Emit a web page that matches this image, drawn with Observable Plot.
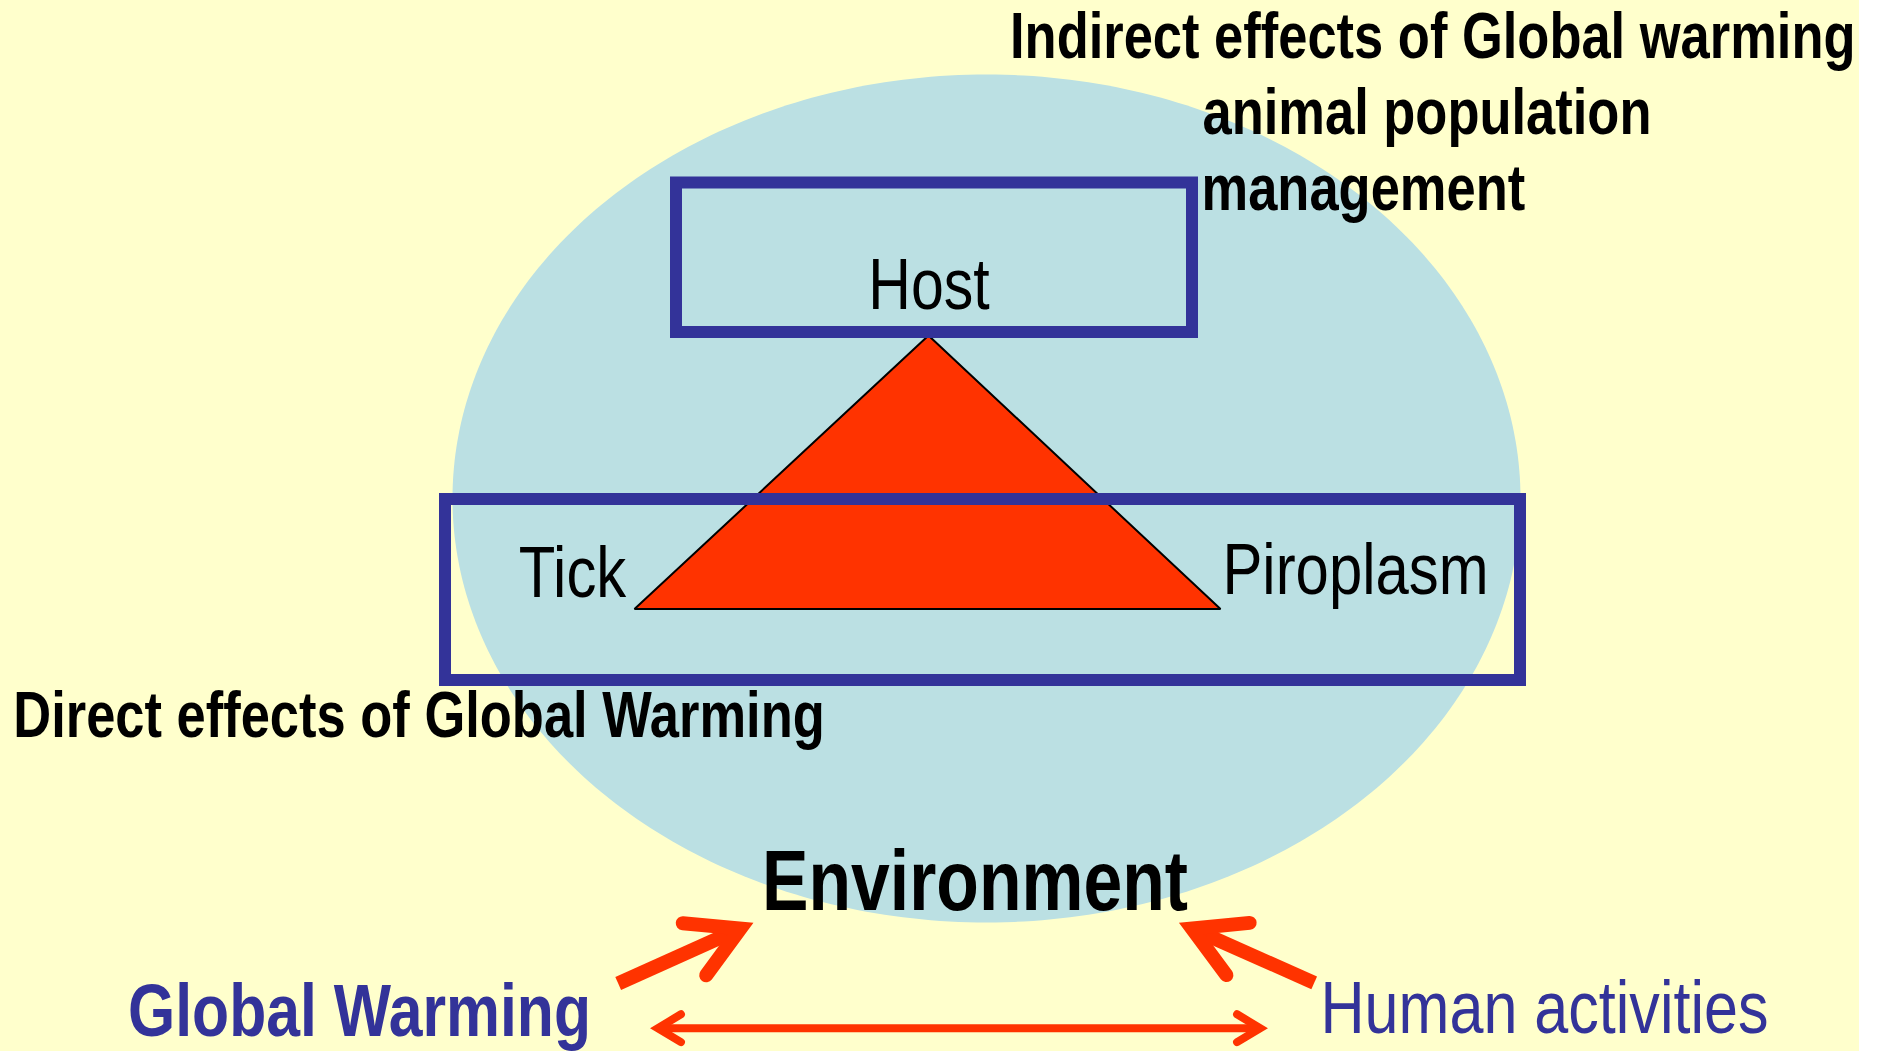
<!DOCTYPE html>
<html>
<head>
<meta charset="utf-8">
<script src="https://cdn.jsdelivr.net/npm/d3@7"></script>
<script src="https://cdn.jsdelivr.net/npm/@observablehq/plot@0.6"></script>
<style>
  html, body { margin: 0; padding: 0; background: #ffffff; }
  #chart { width: 1879px; height: 1051px; }
</style>
</head>
<body>
<div id="chart"></div>
<script>
// ---- diagram layout (page 1879 x 1051, slide 1859 x 1051) ----
const pageSize = [1879, 1051];
const slide = [{x1: 0, x2: 1859, y1: 0, y2: 1051}];

// Environment ellipse: centre and radii
const environment = {cx: 986, cy: 498, rx: 534, ry: 424};

// Epidemiological triangle: Host (apex), Tick (left), Piroplasm (right)
const triangle = [
  {corner: "Host", x: 928, y: 335},
  {corner: "Tick", x: 634, y: 608.6},
  {corner: "Piroplasm", x: 1220, y: 608.6}
];

// Framing boxes (indirect = host box, direct = tick/piroplasm box)
const boxes = [
  {name: "indirect", x1: 676, x2: 1192, y1: 182.5, y2: 332},
  {name: "direct", x1: 445, x2: 1520, y1: 499, y2: 680}
];

// Labels
const labels = [
  {text: "Indirect effects of Global warming", x: 1009.5, y: 57, size: 64, weight: "bold", color: "#000000", anchor: "start"},
  {text: "animal population", x: 1202, y: 133.5, size: 64, weight: "bold", color: "#000000", anchor: "start"},
  {text: "management", x: 1201, y: 209.6, size: 64, weight: "bold", color: "#000000", anchor: "start"},
  {text: "Host", x: 928.5, y: 308.6, size: 72, weight: "normal", color: "#000000", anchor: "middle"},
  {text: "Tick", x: 572, y: 596, size: 73, weight: "normal", color: "#000000", anchor: "middle"},
  {text: "Piroplasm", x: 1355, y: 593, size: 73, weight: "normal", color: "#000000", anchor: "middle"},
  {text: "Direct effects of Global Warming", x: 418.5, y: 736.4, size: 64, weight: "bold", color: "#000000", anchor: "middle"},
  {text: "Environment", x: 974.5, y: 909, size: 85, weight: "bold", color: "#000000", anchor: "middle"},
  {text: "Global Warming", x: 359, y: 1035.5, size: 74, weight: "bold", color: "#333399", anchor: "middle"},
  {text: "Human activities", x: 1544, y: 1032, size: 74.5, weight: "normal", color: "#333399", anchor: "middle"}
];

// Arrows: tail -> head vertex, stroke width, head length, head half-angle (deg), double-headed?
const arrows = [
  {name: "gw-env", x1: 617.7, y1: 983, x2: 740, y2: 928, width: 14, head: 58, angle: 29.5, both: false},
  {name: "ha-env", x1: 1313.7, y1: 982.3, x2: 1191.4, y2: 928, width: 14, head: 58, angle: 29.5, both: false},
  {name: "gw-ha", x1: 657.3, y1: 1027.7, x2: 1259.7, y2: 1027.7, width: 8, head: 27, angle: 31, both: true}
];

// ---- colours / type ----
const colors = {slide: "#FFFFCC", env: "#BBE0E3", frame: "#333399", tri: "#FF3300", arrow: "#FF3300"};
const FONT = "'Liberation Sans Narrow', 'Arial Narrow', 'Liberation Sans', Arial, sans-serif";
const NARROW = 0.82; // Arial Narrow width relative to Arial

// ---- derived geometry ----
const ellipsePts = d3.range(0, 360, 1).map(a => {
  const t = a * Math.PI / 180;
  return {x: environment.cx + environment.rx * Math.cos(t), y: environment.cy + environment.ry * Math.sin(t)};
});

function chevron(name, vx, vy, fromx, fromy, len, halfDeg) {
  const back = Math.atan2(fromy - vy, fromx - vx);
  const h = halfDeg * Math.PI / 180;
  return [
    {id: name, x: vx + len * Math.cos(back + h), y: vy + len * Math.sin(back + h)},
    {id: name, x: vx, y: vy},
    {id: name, x: vx + len * Math.cos(back - h), y: vy + len * Math.sin(back - h)}
  ];
}

const arrowMarks = arrows.flatMap(a => {
  const shaft = [{id: a.name, x: a.x1, y: a.y1}, {id: a.name, x: a.x2, y: a.y2}];
  let heads = chevron(a.name + "-end", a.x2, a.y2, a.x1, a.y1, a.head, a.angle);
  if (a.both) heads = heads.concat(chevron(a.name + "-start", a.x1, a.y1, a.x2, a.y2, a.head, a.angle));
  return [
    Plot.line(shaft, {x: "x", y: "y", z: "id", stroke: colors.arrow, strokeWidth: a.width, strokeLinecap: "butt"}),
    Plot.line(heads, {x: "x", y: "y", z: "id", stroke: colors.arrow, strokeWidth: a.width, strokeLinecap: "round", strokeLinejoin: "miter", strokeMiterlimit: 4})
  ];
});

const textMarks = labels.map(l => Plot.text([l], {
  x: "x", y: "y", text: "text",
  fontSize: l.size, fontWeight: l.weight, fill: l.color,
  textAnchor: l.anchor, lineAnchor: "bottom", fontFamily: FONT
}));

const chart = Plot.plot({
  width: pageSize[0],
  height: pageSize[1],
  margin: 0,
  style: {background: "#ffffff"},
  x: {domain: [0, pageSize[0]], range: [0, pageSize[0]], axis: null},
  y: {domain: [0, pageSize[1]], range: [0, pageSize[1]], axis: null},
  marks: [
    Plot.rect(slide, {x1: "x1", x2: "x2", y1: "y1", y2: "y2", fill: colors.slide}),
    Plot.line(ellipsePts, {x: "x", y: "y", curve: "linear-closed", fill: colors.env, stroke: "none"}),
    Plot.line(triangle, {x: "x", y: "y", curve: "linear-closed", fill: colors.tri, stroke: "#000000", strokeWidth: 2, strokeLinejoin: "miter"}),
    Plot.rect(boxes, {x1: "x1", x2: "x2", y1: "y1", y2: "y2", fill: "none", stroke: colors.frame, strokeWidth: 12}),
    ...textMarks,
    ...arrowMarks
  ]
});
document.getElementById("chart").appendChild(chart);

// Condense the text horizontally to the narrow face of the original
// (no narrow font is installed); the scale is about each label's anchor point.
d3.select(chart).selectAll("text").each(function () {
  const t = this.getAttribute("transform");
  if (t && /translate/.test(t)) {
    this.setAttribute("transform", `${t} scale(${NARROW},1)`);
  } else {
    const x = +(this.getAttribute("x") || 0);
    this.setAttribute("transform", `translate(${x},0) scale(${NARROW},1) translate(${-x},0)`);
  }
});
</script>
</body>
</html>
